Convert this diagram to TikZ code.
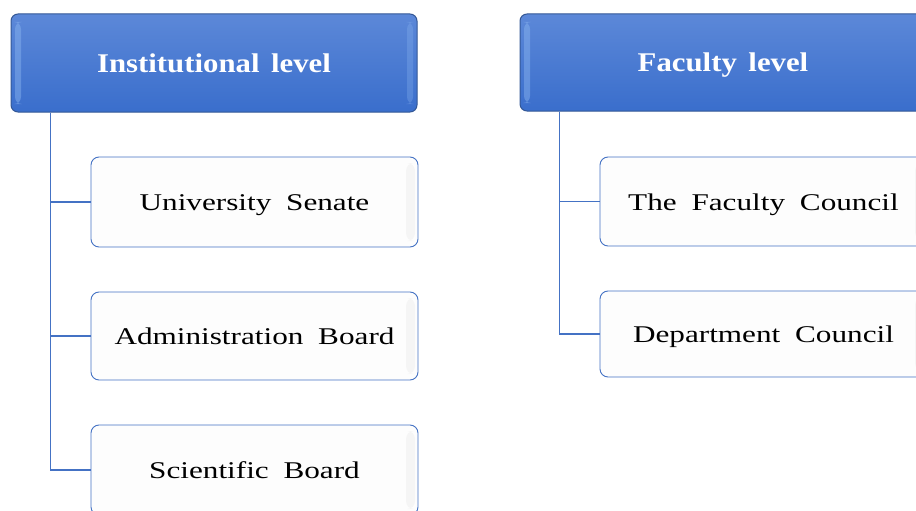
\documentclass[tikz,border=0pt]{standalone}
\usepackage{fontspec}
\setmainfont{Liberation Serif}
\newfontfamily\childfont[FakeStretch=1.3,WordSpace=1.9]{Liberation Serif}
\newfontfamily\headfont[FakeStretch=1.14,WordSpace=1.5]{Liberation Serif}
\definecolor{hdtop}{RGB}{92,136,216}
\definecolor{hdbot}{RGB}{58,110,204}
\definecolor{hdedge}{RGB}{52,88,150}
\definecolor{hdlite}{RGB}{140,182,240}
\definecolor{lnblue}{RGB}{68,114,196}
\definecolor{chfill}{RGB}{253,253,253}
\definecolor{chshade}{RGB}{240,240,240}
\begin{document}
\begin{tikzpicture}[x=1pt,y=-1pt,
  headbox/.style={draw=hdedge, line width=1pt, rounded corners=7pt,
    top color=hdtop, bottom color=hdbot, minimum width=406pt, inner sep=0pt,
    text=white, font=\headfont\bfseries\fontsize{27}{30}\selectfont,
    text height=21pt, text depth=2pt,
    path picture={
      \fill[hdlite,opacity=0.45] ([xshift=4pt,yshift=8pt]path picture bounding box.south west) rectangle ([xshift=10pt,yshift=-8pt]path picture bounding box.north west);
      \fill[hdlite,opacity=0.3] ([xshift=-4pt,yshift=8pt]path picture bounding box.south east) rectangle ([xshift=-10pt,yshift=-8pt]path picture bounding box.north east);
    }},
  childbox/.style={draw=lnblue, line width=0.9pt, rounded corners=8pt,
    fill=chfill, minimum width=327pt, inner sep=0pt,
    font=\childfont\fontsize{24}{28}\selectfont,
    text height=19pt, text depth=2pt,
    path picture={
      \fill[chshade,opacity=0.6] ([xshift=-3pt,yshift=6pt]path picture bounding box.south east) rectangle ([xshift=-12pt,yshift=-6pt]path picture bounding box.north east);
    }},
  conn/.style={draw=lnblue, line width=1.5pt}
]
\useasboundingbox (0,0) rectangle (916,511);
\clip (0,0) rectangle (916,511);
\node[headbox, minimum height=98pt] (h1) at (214,63) {Institutional level};
\node[headbox, minimum height=97pt] (h2) at (723,62.5) {Faculty level};
\node[childbox, minimum height=90pt] (c1) at (254.5,202) {University Senate};
\node[childbox, minimum height=88pt] (c2) at (254.5,336) {Administration Board};
\node[childbox, minimum height=90pt] (c3) at (254.5,470) {Scientific Board};
\node[childbox, minimum height=89pt] (d1) at (763.5,201.5) {The Faculty Council};
\node[childbox, minimum height=86pt] (d2) at (763.5,334) {Department Council};
\draw[conn] ([xshift=40pt]h1.south west) |- (c3.west);
\draw[conn] ([xshift=40pt]h1.south west) |- (c1.west);
\draw[conn] ([xshift=40pt]h1.south west) |- (c2.west);
\draw[conn] ([xshift=40pt]h2.south west) |- (d2.west);
\draw[conn] ([xshift=40pt]h2.south west) |- (d1.west);
\end{tikzpicture}
\end{document}
